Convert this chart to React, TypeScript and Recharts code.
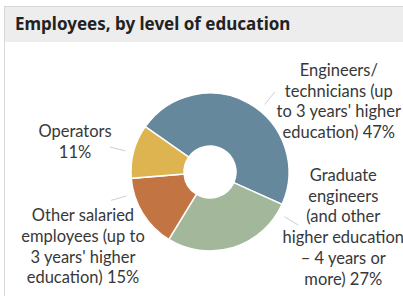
import { PieChart, Pie, Cell } from 'recharts';

// Employees by level of education (share of headcount, %)
const categories = ['Engineers', 'Graduate engineers', 'Other salaried', 'Operators'];
const labelLines = [
  ['Engineers/', 'technicians (up', "to 3 years' higher", 'education) 47%'],
  ['Graduate', 'engineers', '(and other', 'higher education', '– 4 years or', 'more) 27%'],
  ['Other salaried', 'employees (up to', "3 years' higher", 'education) 15%'],
  ['Operators', '11%'],
];
const shares = [47, 27, 15, 11];
const colors = ['#66889d', '#a3b79b', '#c27442', '#deb451'];

// leader line angle and text block offset from the line end
const labelLayout = [
  { angle: 51, dx: 64, dy: -16 },
  { angle: -31, dx: 45, dy: -44 },
  { angle: 196, dx: -28, dy: 21 },
  { angle: 166, dx: -35, dy: -10 },
];

const RADIAN = Math.PI / 180;
const LINE_H = 20.7;

const chartData = categories.map((name, i) => ({ name, value: shares[i] }));

function polar(cx: number, cy: number, r: number, angle: number) {
  return { x: cx + r * Math.cos(-angle * RADIAN), y: cy + r * Math.sin(-angle * RADIAN) };
}

function renderLabel(props: any) {
  const { cx, cy, outerRadius, index } = props;
  const layout = labelLayout[index];
  const start = polar(cx, cy, outerRadius + 8, layout.angle);
  const end = polar(cx, cy, outerRadius + 24, layout.angle);
  const tx = end.x + layout.dx;
  const ty = end.y + layout.dy;
  return (
    <g key={`label-${index}`}>
      <line x1={start.x} y1={start.y} x2={end.x} y2={end.y} stroke="#cfcfcf" strokeWidth={1} />
      <text x={tx} y={ty} textAnchor="middle" fill="#383838" fontSize={16.5} fontFamily="Lato, sans-serif">
        {labelLines[index].map((line, i) => (
          <tspan key={i} x={tx} y={ty + i * LINE_H}>
            {line}
          </tspan>
        ))}
      </text>
    </g>
  );
}

export default function App() {
  return (
    <div style={{ position: 'absolute', left: 0, top: 0, width: 403, height: 296, background: '#fff', overflow: 'hidden' }}>
      <div style={{ position: 'absolute', left: 4, top: 6, width: 1, height: 290, background: '#d8d8d8' }} />
      <div
        style={{
          position: 'absolute',
          left: 4,
          top: 6,
          width: 399,
          height: 36,
          background: '#ededed',
          borderTop: '1px solid #d8d8d8',
          borderLeft: '1px solid #d8d8d8',
          boxSizing: 'border-box',
        }}
      />
      <div
        style={{
          position: 'absolute',
          left: 15,
          top: 13,
          fontFamily: "'Noto Sans', sans-serif",
          fontWeight: 700,
          fontSize: 17,
          color: '#222',
          lineHeight: '22px',
        }}
      >
        Employees, by level of education
      </div>
      <div style={{ position: 'absolute', left: 0, top: 0 }}>
        <PieChart width={403} height={296}>
          <Pie
            data={chartData}
            dataKey="value"
            nameKey="name"
            cx={205}
            cy={167}
            innerRadius={26}
            outerRadius={79}
            startAngle={145}
            endAngle={-215}
            stroke="#fff"
            strokeWidth={1.5}
            label={renderLabel}
            labelLine={false}
            isAnimationActive={false}
          >
            {chartData.map((d, i) => (
              <Cell key={d.name} fill={colors[i]} />
            ))}
          </Pie>
        </PieChart>
      </div>
    </div>
  );
}
